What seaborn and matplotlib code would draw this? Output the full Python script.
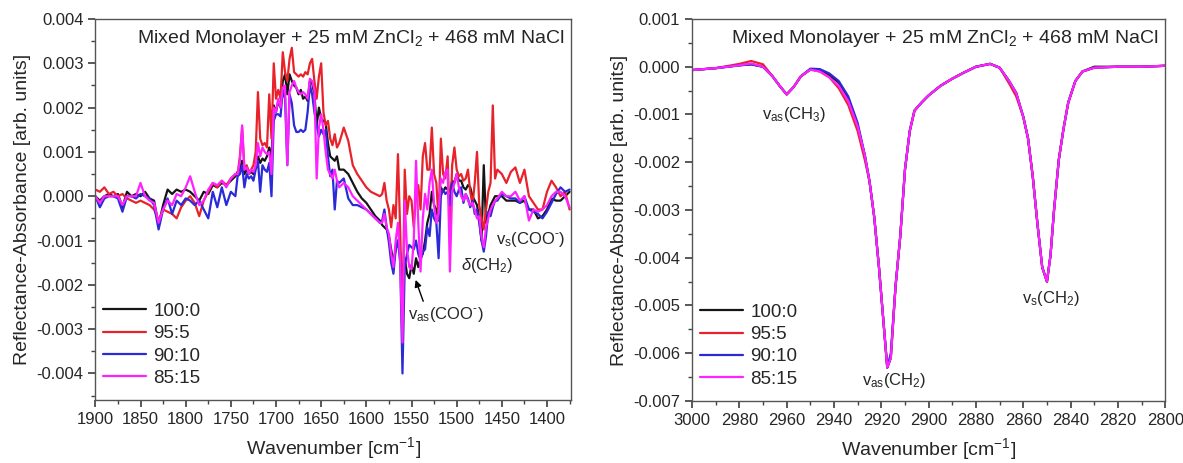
import numpy as np
import pandas as pd
import matplotlib
matplotlib.use("Agg")
import matplotlib.pyplot as plt
from matplotlib.ticker import MultipleLocator, FormatStrFormatter
import seaborn as sns

# ---- carboxylate / fingerprint region (values in 1e-3 arb. units) ----
wn_coo = np.concatenate([
    np.arange(1900, 1744, -5.0),      # 32
    np.arange(1742.5, 1629, -2.5),    # 46
    np.arange(1625, 1584, -5.0),      # 9
    np.arange(1582.5, 1454, -2.5),    # 52
    np.arange(1450, 1374, -5.0),      # 16
])

coo_100 = [
    0.0, -0.1, 0.0, 0.05, 0.0, 0.05, -0.25, 0.1, 0.0, 0.05, 0.0, 0.1, -0.05, -0.1, -0.65, -0.2,
    0.15, 0.05, 0.15, 0.1, 0.15, 0.1, 0.0, -0.1, 0.1, 0.05, 0.25, 0.2, 0.3, 0.25, 0.35, 0.45,
    0.55, 0.6, 0.8, 0.5, 0.6, 0.5, 0.55, 0.5, 0.65, 0.9, 0.75, 0.85, 0.8, 0.9, 1.1, 0.85,
    2.05, 1.9, 2.15, 2.0, 2.6, 2.75, 2.3, 2.75, 2.6, 2.5, 2.45, 2.3, 2.4, 2.2, 2.25, 2.15,
    2.6, 2.55, 2.3, 1.6, 2.0, 1.75, 1.7, 1.65, 1.2, 0.9, 0.85, 0.8, 0.9, 0.6,
    0.6, 0.5, 0.3, 0.1, -0.05, -0.15, -0.3, -0.45, -0.55,
    -0.65, -0.7, -0.75, -0.9, -1.2, -1.5, -1.2, -1.0, -1.3, -2.0, -1.4, -1.75, -1.85,
    -1.55, -1.75, -1.4, -1.6, -1.4, -1.3, -1.0, -0.6, -0.4, 0.1, -0.2, -0.3, -0.55,
    0.2, 0.1, 0.2, 0.15, 0.1, 0.35, 0.3, 0.5, 0.35, 0.35, 0.2, 0.15, 0.25,
    0.2, 0.0, -0.1, -0.2, -0.5, -1.0, 0.7, -0.6, -0.4, -0.2, -0.1, 0.0, 0.0,
    0.0, -0.1, -0.1, -0.1, -0.15, -0.1, -0.3, -0.3, -0.5, -0.45, -0.3, -0.05, -0.1, -0.1, 0.0, 0.1,
]
coo_95 = [
    0.15, 0.1, 0.2, 0.05, 0.1, 0.0, 0.05, -0.05, -0.1, -0.15, -0.1, -0.15, -0.2, -0.3, -0.55, -0.3,
    -0.35, -0.4, -0.5, -0.25, -0.1, 0.0, -0.15, -0.45, -0.1, 0.1, 0.3, 0.2, 0.35, 0.25, 0.4, 0.5,
    0.5, 0.9, 1.55, 0.6, 0.7, 0.55, 0.6, 0.7, 1.0, 2.35, 1.3, 1.15, 1.2, 1.1, 2.3, 1.3,
    3.0, 2.2, 2.4, 2.2, 3.25, 2.8, 2.6, 3.1, 3.35, 2.8, 2.75, 2.7, 2.75, 2.7, 2.8, 2.75,
    3.0, 3.1, 2.6, 2.2, 2.7, 3.0, 1.9, 1.6, 1.7, 1.3, 1.15, 1.4, 1.1, 1.2,
    1.55, 1.25, 0.7, 0.5, 0.35, 0.2, 0.1, 0.05, 0.0,
    0.05, 0.3, -0.1, -0.3, -0.7, -0.2, -0.5, 0.95, -0.8, -2.8, 0.6, -0.4, 0.0,
    -0.1, -0.7, 0.0, 0.25, -0.3, 0.9, 1.2, 0.6, 0.6, 1.55, 0.5, 0.3, -0.55,
    1.3, 0.5, 0.4, 0.9, -0.8, 0.7, 1.1, 0.6, 0.45, 0.5, 0.35, 0.4, 0.6,
    0.1, -0.2, 0.3, 1.0, -0.2, -0.5, -0.75, -0.3, 0.1, 0.3, 2.05, 0.4, 0.6,
    0.5, 0.3, 0.55, 0.65, 0.3, 0.6, 0.0, -0.15, -0.3, -0.3, 0.1, 0.35, 0.2, 0.0, 0.1, -0.3,
]
coo_90 = [
    0.0, -0.25, -0.05, 0.0, 0.0, -0.05, -0.35, 0.0, 0.0, -0.05, 0.05, 0.0, -0.05, -0.2, -0.75, -0.3,
    -0.05, -0.4, -0.1, -0.2, -0.05, -0.1, -0.2, -0.1, -0.3, -0.5, 0.1, -0.25, 0.2, -0.2, 0.1, 0.0,
    0.45, 0.5, 0.7, 0.2, 0.5, 0.4, 0.45, 0.35, 0.6, 0.8, 0.1, 0.7, 0.6, 0.55, 0.75, 0.0,
    1.7, 1.85, 1.85, 1.8, 2.4, 2.2, 0.7, 2.3, 2.1, 1.6, 1.45, 1.45, 1.5, 1.45, 1.5, 1.9,
    2.5, 2.3, 1.9, 1.6, 1.35, 1.5, 1.4, 1.5, 0.9, 0.45, 0.6, -0.3, 0.35, 0.3,
    0.4, -0.05, -0.2, -0.2, -0.25, -0.3, -0.4, -0.5, -0.6,
    -0.55, -0.3, -0.7, -1.05, -1.5, -1.75, -1.2, -1.0, -1.5, -4.0, -1.6, -1.3, -1.1,
    -1.15, -1.2, -1.0, -1.3, -1.45, -1.25, -1.2, -0.7, -0.9, -0.3, -0.5, -0.6, -1.4,
    0.0, 0.15, 0.05, 0.1, -0.2, 0.3, 0.1, 0.0, 0.15, 0.2, -0.15, 0.05, -0.05,
    -0.25, -0.1, -0.4, -0.3, -0.6, -1.0, -1.25, -0.9, -0.35, -0.45, -0.25, -0.1, -0.1,
    0.05, 0.0, -0.05, -0.05, -0.15, 0.0, -0.3, -0.35, -0.4, -0.5, -0.35, -0.15, 0.05, 0.2, 0.1, 0.15,
]
coo_85 = [
    0.0, -0.15, 0.0, 0.0, 0.0, 0.0, -0.2, 0.0, 0.0, 0.0, 0.3, 0.0, -0.1, -0.15, -0.6, -0.3,
    -0.1, -0.2, 0.05, 0.0, 0.2, 0.45, 0.1, -0.2, -0.1, 0.15, 0.3, 0.25, 0.35, 0.2, 0.4, 0.5,
    0.5, 0.8, 1.6, 0.6, 0.65, 0.5, 0.6, 0.55, 0.7, 1.2, 0.9, 1.1, 1.0, 0.95, 1.0, 0.5,
    2.0, 1.9, 2.2, 2.0, 2.45, 2.5, 0.7, 2.35, 2.5, 2.6, 2.45, 2.35, 2.3, 2.35, 2.3, 2.2,
    2.65, 2.6, 2.4, 0.4, 1.55, 1.85, 1.5, 1.0, 0.6, 0.5, 0.4, 0.6, 0.35, 0.2,
    0.3, 0.2, 0.0, -0.1, -0.2, -0.3, -0.4, -0.5, -0.6,
    -0.6, -0.4, -0.7, -0.85, -1.3, -1.6, -1.0, -0.6, -1.5, -3.3, -0.1, -1.2, -1.6,
    -1.65, -1.0, 0.8, -0.6, -1.7, -0.5, 0.05, -0.3, 0.3, 0.6, -0.2, -0.6, -0.4,
    0.4, 0.3, 0.55, 0.6, -1.7, 0.1, 0.3, 0.5, 0.2, 0.0, -0.1, 0.05, -0.1,
    -0.2, -0.15, -0.3, -0.5, -0.45, -0.9, -1.15, -0.7, -0.5, -0.3, -0.2, -0.1, -0.05,
    0.1, 0.0, 0.0, 0.1, -0.1, 0.0, -0.55, -0.3, -0.35, -0.3, -0.2, 0.0, 0.1, 0.1, 0.0, -0.25,
]

# ---- CH stretching region (values in 1e-3 arb. units) ----
wn_ch = [3000, 2990, 2980, 2975, 2970, 2966, 2963, 2960, 2957, 2954, 2950, 2946, 2942, 2938,
         2934, 2930, 2927, 2925, 2923, 2921, 2919, 2917.5, 2916, 2914, 2912, 2910, 2908, 2906,
         2903, 2900, 2895, 2890, 2885, 2880, 2874, 2870, 2866, 2863, 2860, 2858, 2856, 2854,
         2852, 2850, 2848.5, 2847, 2845, 2843, 2841, 2838, 2835, 2830, 2820, 2810, 2800]

ch_100 = [-0.07, -0.03, 0.03, 0.05, 0.0, -0.2, -0.4, -0.58, -0.42, -0.2, -0.06, -0.07, -0.18, -0.33,
          -0.65, -1.25, -1.85, -2.4, -3.15, -4.2, -5.4, -6.3, -6.1, -4.6, -3.55, -2.15, -1.35, -0.92,
          -0.75, -0.6, -0.4, -0.25, -0.12, 0.0, 0.06, -0.02, -0.3, -0.55, -1.05, -1.5, -2.3, -3.3,
          -4.2, -4.5, -3.95, -3.0, -1.95, -1.3, -0.75, -0.3, -0.1, 0.0, 0.0, 0.0, 0.02]
ch_95 = [-0.07, -0.03, 0.06, 0.12, 0.05, -0.2, -0.4, -0.58, -0.42, -0.2, -0.06, -0.1, -0.22, -0.45,
         -0.8, -1.35, -1.95, -2.4, -3.15, -4.2, -5.4, -6.3, -6.1, -4.6, -3.55, -2.15, -1.35, -0.92,
         -0.75, -0.6, -0.4, -0.25, -0.12, 0.0, 0.06, -0.02, -0.35, -0.62, -1.05, -1.5, -2.3, -3.3,
         -4.2, -4.5, -3.95, -3.0, -1.95, -1.3, -0.75, -0.3, -0.1, -0.02, 0.0, 0.0, 0.02]
ch_90 = [-0.07, -0.03, 0.03, 0.05, 0.0, -0.2, -0.4, -0.58, -0.42, -0.2, -0.04, -0.05, -0.14, -0.3,
         -0.62, -1.18, -1.85, -2.4, -3.15, -4.2, -5.4, -6.3, -6.0, -4.6, -3.55, -2.15, -1.35, -0.92,
         -0.75, -0.6, -0.4, -0.25, -0.12, 0.0, 0.06, -0.02, -0.3, -0.55, -1.05, -1.5, -2.3, -3.3,
         -4.2, -4.5, -3.95, -3.0, -1.95, -1.3, -0.75, -0.3, -0.1, -0.02, 0.0, 0.0, 0.02]
ch_85 = [-0.07, -0.03, 0.03, 0.07, 0.0, -0.2, -0.4, -0.58, -0.42, -0.2, -0.06, -0.1, -0.22, -0.4,
         -0.72, -1.25, -1.85, -2.4, -3.15, -4.2, -5.4, -6.3, -6.1, -4.6, -3.55, -2.15, -1.35, -0.92,
         -0.75, -0.6, -0.4, -0.25, -0.12, 0.0, 0.06, -0.02, -0.3, -0.55, -1.05, -1.5, -2.3, -3.3,
         -4.2, -4.5, -3.95, -3.0, -1.95, -1.3, -0.75, -0.3, -0.1, -0.02, 0.0, 0.0, 0.02]

ratios = ["100:0", "95:5", "90:10", "85:15"]
colors = ["#151515", "#e8222a", "#2a2ad8", "#ff22ff"]
title = "Mixed Monolayer + 25 mM ZnCl$_2$ + 468 mM NaCl"
hy = "\u2010"  # short hyphen for the carboxylate charge


def long_form(wn, series):
    parts = []
    for name, vals in zip(ratios, series):
        assert len(vals) == len(wn), (name, len(vals), len(wn))
        parts.append(pd.DataFrame({"wn": wn, "A": np.array(vals) * 1e-3, "ratio": name}))
    return pd.concat(parts, ignore_index=True)


df_coo = long_form(wn_coo, [coo_100, coo_95, coo_90, coo_85])
df_ch = long_form(wn_ch, [ch_100, ch_95, ch_90, ch_85])

sns.set_theme(style="ticks")
plt.rcParams["font.family"] = ["Liberation Sans", "DejaVu Sans"]
plt.rcParams["mathtext.fontset"] = "custom"
plt.rcParams["mathtext.rm"] = "Liberation Sans"
plt.rcParams["mathtext.it"] = "Liberation Sans:italic"
plt.rcParams["axes.unicode_minus"] = False

fig = plt.figure(figsize=(11.83, 4.63), dpi=100)
ax1 = fig.add_axes([0.0806, 0.136, 0.4024, 0.823])
ax2 = fig.add_axes([0.585, 0.134, 0.400, 0.825])
palette = dict(zip(ratios, colors))

for ax, df in [(ax1, df_coo), (ax2, df_ch)]:
    sns.lineplot(data=df, x="wn", y="A", hue="ratio", hue_order=ratios, palette=palette,
                 estimator=None, sort=False, linewidth=1.6, ax=ax)
    ax.set_xlabel("Wavenumber [cm$^{-1}$]", fontsize=14, labelpad=6)
    ax.set_ylabel("Reflectance-Absorbance [arb. units]", fontsize=14, labelpad=4)
    ax.yaxis.set_major_formatter(FormatStrFormatter("%.3f"))
    ax.yaxis.set_minor_locator(MultipleLocator(0.0005))
    ax.tick_params(which="both", direction="out", top=False, right=False, labelsize=12,
                   color="#444444")
    ax.tick_params(which="major", length=5)
    ax.tick_params(which="minor", length=3)
    for sp in ax.spines.values():
        sp.set_visible(True)
        sp.set_color("#555555")
        sp.set_linewidth(1.0)
    ax.text(0.985, 0.95, title, transform=ax.transAxes, ha="right", va="center", fontsize=14)
    ax.legend(loc="lower left", bbox_to_anchor=(-0.012, 0.0), frameon=False, fontsize=13.5,
              handlelength=2.3, handletextpad=0.4, labelspacing=0.28, borderaxespad=0.3)

ax1.set_xlim(1900, 1373)
ax1.set_ylim(-0.0046, 0.004)
ax1.xaxis.set_major_locator(MultipleLocator(50))
ax1.xaxis.set_minor_locator(MultipleLocator(25))
ax1.yaxis.set_major_locator(MultipleLocator(0.001))

ax2.set_xlim(3000, 2800)
ax2.set_ylim(-0.007, 0.001)
ax2.xaxis.set_major_locator(MultipleLocator(20))
ax2.xaxis.set_minor_locator(MultipleLocator(10))
ax2.yaxis.set_major_locator(MultipleLocator(0.001))

# band assignments
ax1.text(1554, -0.00266, r"v$_{\mathrm{as}}$(COO$^{" + hy + "}$)", fontsize=12, ha="left", va="center")
ax1.annotate("", xy=(1546.5, -0.00183), xytext=(1536, -0.00243),
             arrowprops=dict(arrowstyle="-|>", color="black", lw=1.0, mutation_scale=10))
ax1.text(1495, -0.00157, r"$\delta$(CH$_2$)", fontsize=12, ha="left", va="center")
ax1.text(1457, -0.00097, r"v$_{\mathrm{s}}$(COO$^{" + hy + "}$)", fontsize=12, ha="left", va="center")

ax2.text(2957, -0.00101, r"v$_{\mathrm{as}}$(CH$_3$)", fontsize=12, ha="center", va="center")
ax2.text(2914.7, -0.00657, r"v$_{\mathrm{as}}$(CH$_2$)", fontsize=12, ha="center", va="center")
ax2.text(2848.4, -0.00486, r"v$_{\mathrm{s}}$(CH$_2$)", fontsize=12, ha="center", va="center")

fig.savefig("out.png", dpi=100)
